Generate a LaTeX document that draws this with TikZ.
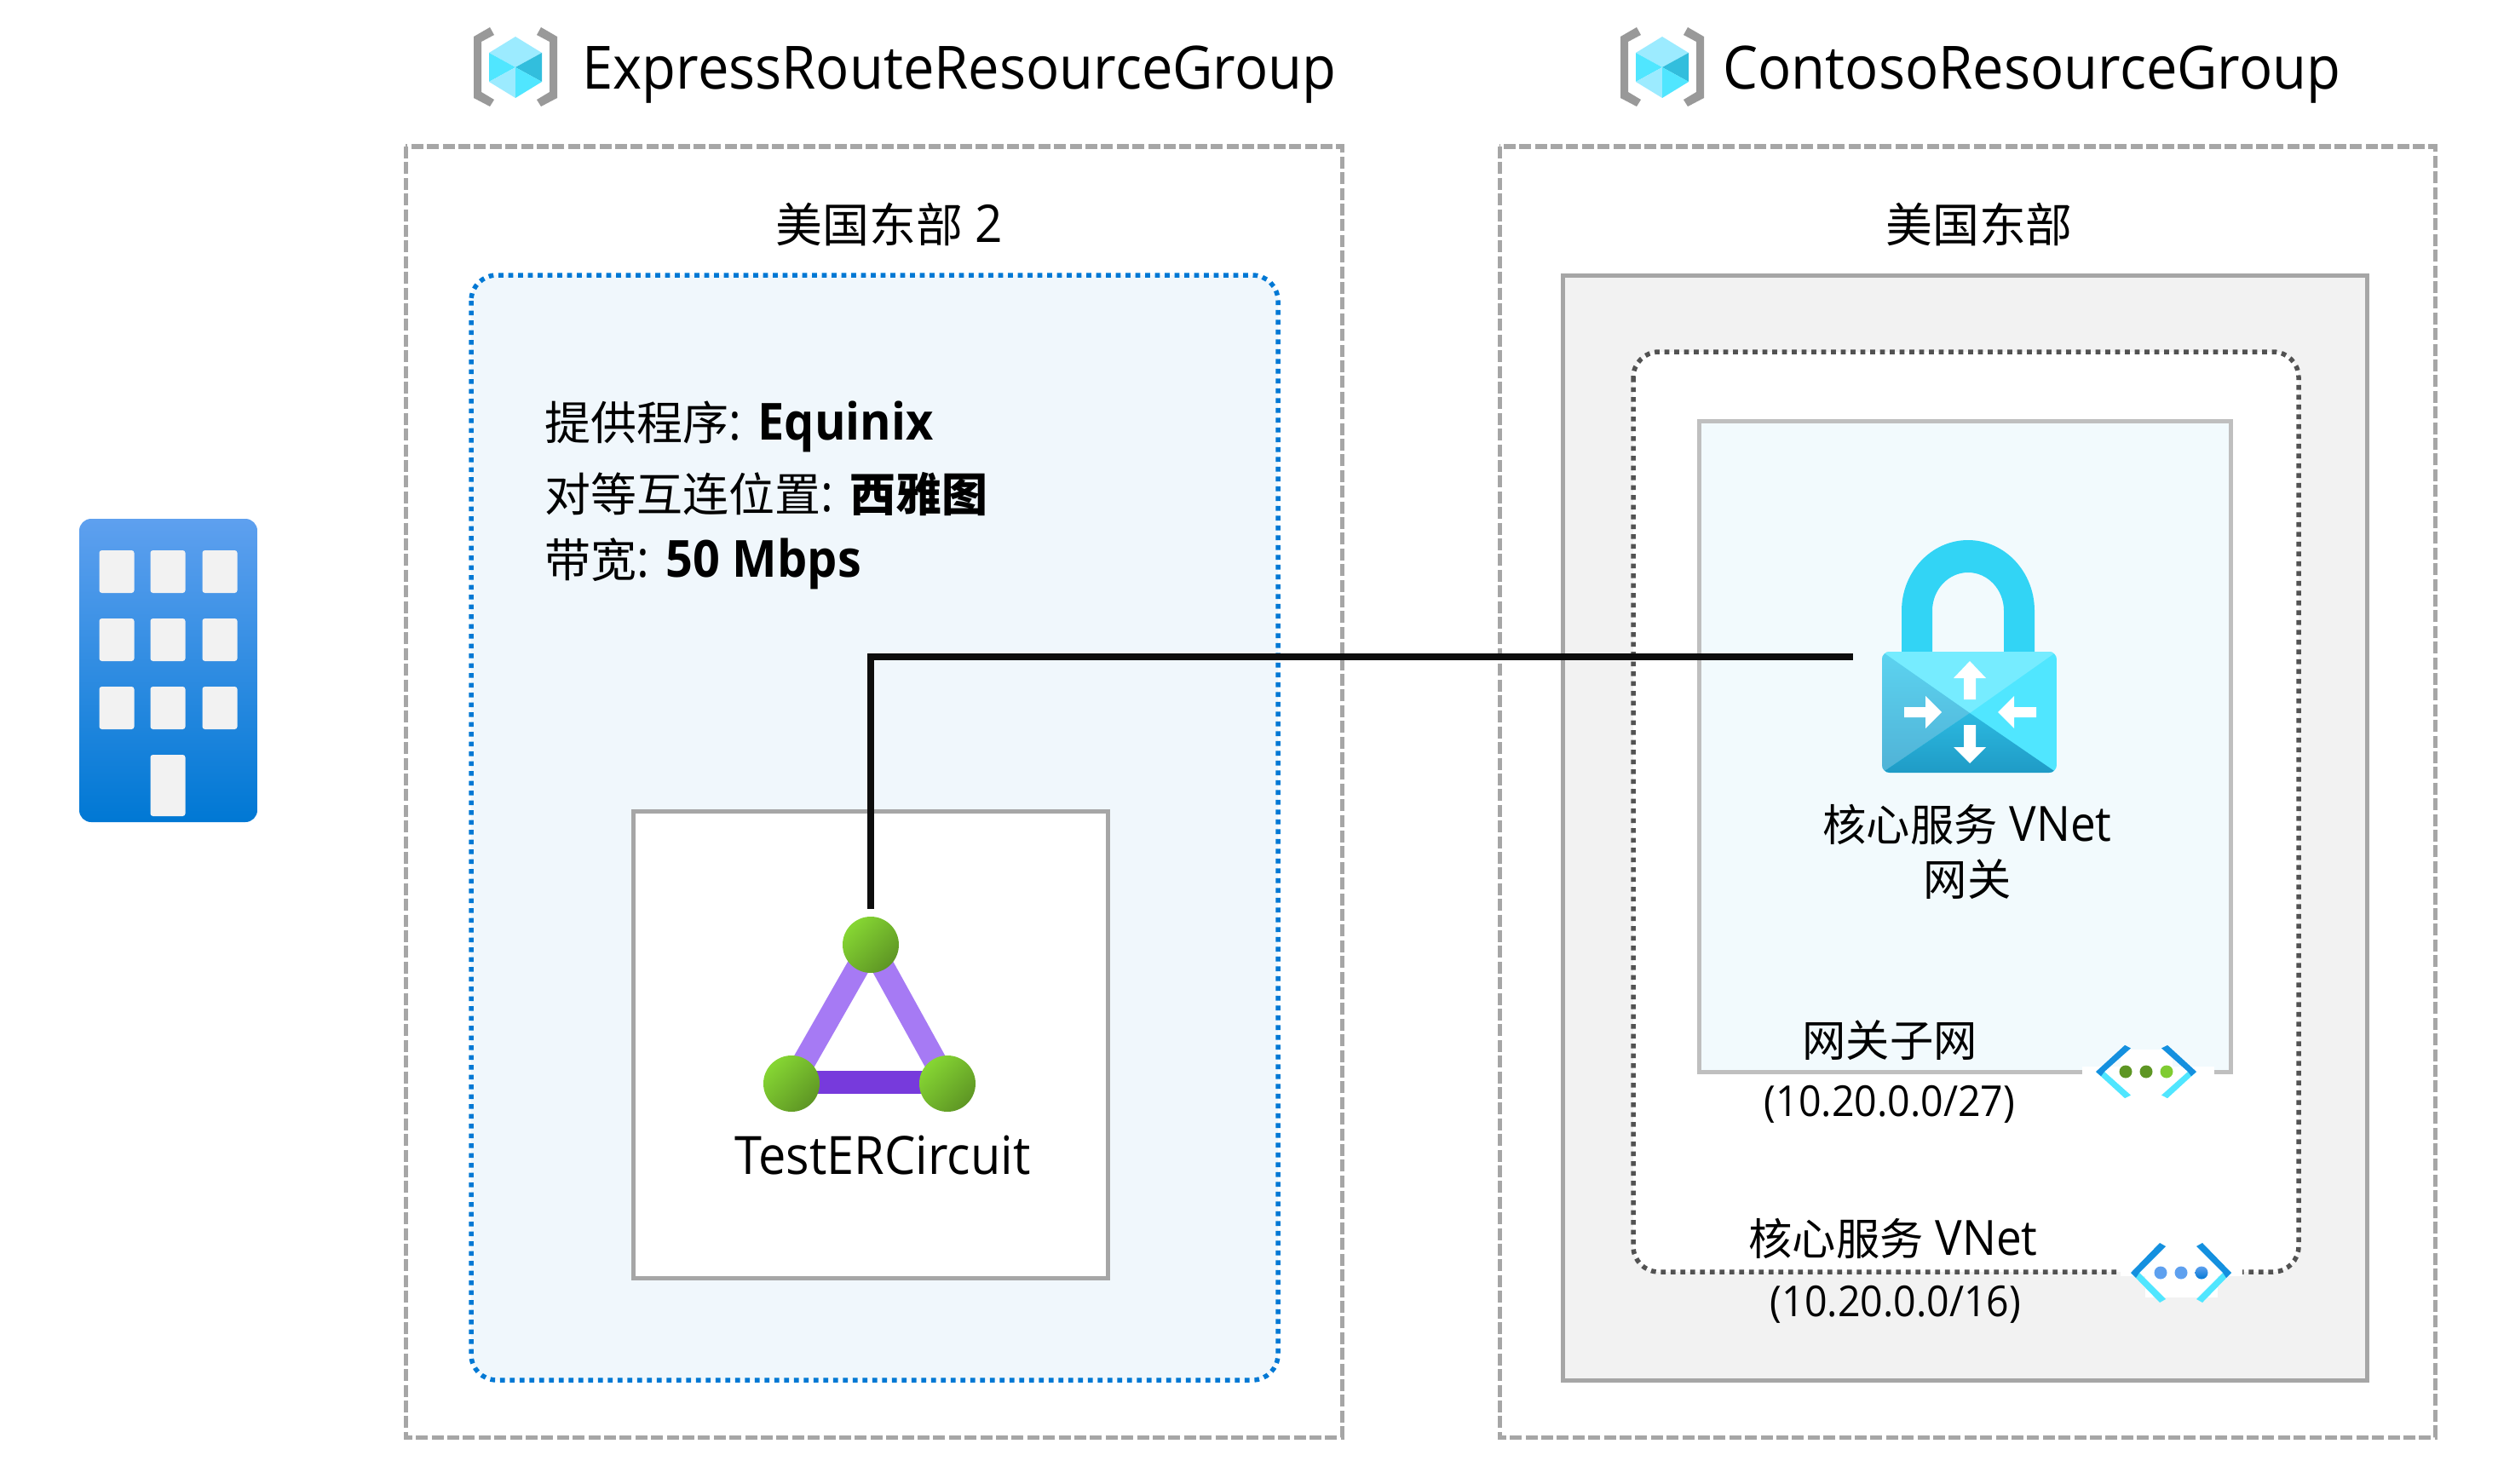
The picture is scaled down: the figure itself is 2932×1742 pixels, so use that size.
\documentclass[tikz,border=0pt]{standalone}
\usepackage{fontspec}
\setmainfont[FakeStretch=0.93]{Open Sans}
\newfontfamily\cjk[Scale=0.9]{Noto Sans CJK SC}
\begin{document}
\begin{tikzpicture}[x=1pt,y=-1pt]
		\tikzstyle{outer}=[draw=black!35,line width=5pt,dash pattern=on 14pt off 4.4pt]
		\tikzstyle{title}=[anchor=base west,font=\fontsize{70}{80}\selectfont]
		\tikzstyle{lbl}=[font=\fontsize{57}{60}\selectfont]
		\tikzstyle{addr}=[font=\fontsize{50}{60}\selectfont]
		\tikzstyle{info}=[anchor=base west,font=\fontsize{60}{60}\selectfont]
		\tikzstyle{win}=[rectangle,rounded corners=3pt,fill=winGray,minimum width=41pt,minimum height=50pt,inner sep=0pt]
		\tikzstyle{ball}=[circle,minimum size=66pt,inner sep=0pt,shading=axis,top color=ballTop,bottom color=ballBot,shading angle=45]
		\tikzstyle{dot}=[circle,minimum size=15pt,inner sep=0pt]
		\definecolor{winGray}{HTML}{F2F2F2}
		\definecolor{ballTop}{HTML}{86D633}
		\definecolor{ballBot}{HTML}{5E9624}
		\definecolor{azBlue}{HTML}{0078D4}
		\definecolor{skyBlue}{HTML}{5EA0EF}
		\definecolor{chevBlue}{HTML}{1490DF}
		\definecolor{cyanA}{HTML}{50E6FF}
		\definecolor{cyanB}{HTML}{9CEBFF}
		\definecolor{cyanC}{HTML}{32BEDD}
		\definecolor{lockTop}{HTML}{32D4F5}
		\definecolor{lockFace}{HTML}{76ECFF}
		\definecolor{lockSideA}{HTML}{5CD3F0}
		\definecolor{lockSideB}{HTML}{50B2D6}
		\definecolor{lockBaseA}{HTML}{2CB9E0}
		\definecolor{lockBaseB}{HTML}{1F9BC6}
		\definecolor{barLight}{HTML}{A67AF4}
		\definecolor{barDark}{HTML}{773ADC}
		\definecolor{subFill}{HTML}{F2FAFD}
		\useasboundingbox (0,0) rectangle (2932,1742);

		\draw[outer] (476,172) rectangle (1575,1687);
		\draw[outer] (1760,172) rectangle (2858,1687);
		\draw[draw=azBlue,fill=azBlue!6,line width=5.5pt,dash pattern=on 5.7pt off 5.8pt,rounded corners=30pt] (553,323) rectangle (1500,1620);
		\draw[draw=black!35,fill=winGray,line width=5pt] (1834,323) rectangle (2778,1620);
		\draw[draw=black!68,fill=white,line width=5.5pt,dash pattern=on 5.7pt off 5.8pt,rounded corners=30pt] (1917,413) rectangle (2698,1493);
		\draw[draw=black!25,fill=subFill,line width=5pt] (1994,494) rectangle (2618,1258);
		\draw[draw=black!35,fill=white,line width=5pt] (743,952) rectangle (1300,1500);

		\node[title] (rg1) at (680,105) {ExpressRouteResourceGroup};
		\node[title] (rg2) at (2019,105) {ContosoResourceGroup};
		\node[lbl,font=\fontsize{61}{60}\selectfont] (east2) at (1044,263) {{\cjk 美国东部} 2};
		\node[lbl,font=\fontsize{61}{60}\selectfont] (east) at (2323,263) {\cjk 美国东部};
		\node[info] (prov) at (636,516) {{\cjk 提供程序}: \textbf{Equinix}};
		\node[info] (peer) at (636,600) {{\cjk 对等互连位置}: {\cjk\bfseries 西雅图}};
		\node[info] (band) at (636,677) {{\cjk 带宽}: \textbf{50 Mbps}};
		\node[font=\fontsize{62}{60}\selectfont] (circ) at (1036,1356) {TestERCircuit};
		\node[lbl] (gw1) at (2309,968) {{\cjk 核心服务} VNet};
		\node[lbl] (gw2) at (2309,1032) {\cjk 网关};
		\node[lbl] (sub1) at (2218,1221) {\cjk 网关子网};
		\node[addr] (sub2) at (2218,1296) {(10.20.0.0/27)};
		\node[lbl] (vnet1) at (2222,1454) {{\cjk 核心服务} VNet};
		\node[addr] (vnet2) at (2225,1531) {(10.20.0.0/16)};

		\shade[top color=skyBlue,bottom color=azBlue,rounded corners=14pt] (93,609) rectangle (302,965);
		\node[win] (w11) at (137,671) {};
		\node[win] (w12) at (197,671) {};
		\node[win] (w13) at (258,671) {};
		\node[win] (w21) at (137,751) {};
		\node[win] (w22) at (197,751) {};
		\node[win] (w23) at (258,751) {};
		\node[win] (w31) at (137,831) {};
		\node[win] (w32) at (197,831) {};
		\node[win] (w33) at (258,831) {};
		\node[win,minimum height=72pt] (door) at (197,922) {};

		\begin{scope}[shift={(605,79)}]
			\fill[black!40] (-30,-47) -- (-25,-38) -- (-40,-30) -- (-40,29) -- (-25,38) -- (-30,46) -- (-49,36) -- (-49,-36) -- cycle;
			\fill[black!40] (30,-47) -- (25,-38) -- (40,-30) -- (40,29) -- (25,38) -- (30,46) -- (49,36) -- (49,-36) -- cycle;
			\fill[cyanB] (0,-36) -- (31,-17) -- (0,0) -- (-31,-17) -- cycle;
			\fill[cyanA] (-31,-17) -- (0,0) -- (-31,17) -- cycle;
			\fill[cyanC] (31,-17) -- (0,0) -- (31,17) -- cycle;
			\fill[cyanB] (-31,17) -- (0,0) -- (0,36) -- cycle;
			\fill[cyanA] (31,17) -- (0,0) -- (0,36) -- cycle;
		\end{scope}
		\begin{scope}[shift={(1951,79)}]
			\fill[black!40] (-30,-47) -- (-25,-38) -- (-40,-30) -- (-40,29) -- (-25,38) -- (-30,46) -- (-49,36) -- (-49,-36) -- cycle;
			\fill[black!40] (30,-47) -- (25,-38) -- (40,-30) -- (40,29) -- (25,38) -- (30,46) -- (49,36) -- (49,-36) -- cycle;
			\fill[cyanB] (0,-36) -- (31,-17) -- (0,0) -- (-31,-17) -- cycle;
			\fill[cyanA] (-31,-17) -- (0,0) -- (-31,17) -- cycle;
			\fill[cyanC] (31,-17) -- (0,0) -- (31,17) -- cycle;
			\fill[cyanB] (-31,17) -- (0,0) -- (0,36) -- cycle;
			\fill[cyanA] (31,17) -- (0,0) -- (0,36) -- cycle;
		\end{scope}

		\coordinate (circT) at (1022,1109);
		\coordinate (circL) at (929,1272);
		\coordinate (circR) at (1112,1272);
		\draw[color=barLight,line width=27pt] (circL) -- (circT) -- (circR);
		\draw[color=barDark,line width=27pt] (929,1270) -- (1112,1270);
		\node[ball] (ballT) at (circT) {};
		\node[ball] (ballL) at (circL) {};
		\node[ball] (ballR) at (circR) {};

		\fill[lockTop] (2232,765) -- (2232,717) arc[start angle=180,end angle=360,x radius=78,y radius=83] -- (2388,765) -- (2352,765) -- (2352,717) arc[start angle=0,end angle=-180,x radius=42,y radius=45] -- (2268,765) -- cycle;
		\begin{scope}
			\clip[rounded corners=9pt] (2209,765) rectangle (2414,907);
			\fill[cyanA] (2209,765) rectangle (2414,907);
			\fill[lockFace] (2209,765) -- (2414,765) -- (2312,837) -- cycle;
			\shade[top color=lockSideA,bottom color=lockSideB] (2209,765) -- (2312,837) -- (2209,907) -- cycle;
			\shade[top color=lockBaseA,bottom color=lockBaseB] (2209,907) -- (2312,837) -- (2414,907) -- cycle;
		\end{scope}
		\fill[white] (2312,776) -- (2331,796) -- (2319,796) -- (2319,821) -- (2305,821) -- (2305,796) -- (2293,796) -- cycle;
		\fill[white] (2312,896) -- (2331,877) -- (2319,877) -- (2319,851) -- (2305,851) -- (2305,877) -- (2293,877) -- cycle;
		\fill[white] (2279,836) -- (2260,817) -- (2260,830) -- (2235,830) -- (2235,842) -- (2260,842) -- (2260,855) -- cycle;
		\fill[white] (2345,836) -- (2364,817) -- (2364,830) -- (2390,830) -- (2390,842) -- (2364,842) -- (2364,855) -- cycle;

		\coordinate (gwPort) at (2175,771);
		\draw[color=black!95,line width=7.5pt,shorten <=9pt] (ballT.north) |- (gwPort);

		\fill[white] (2444,1252) rectangle (2599,1262);
		\fill[white] (2489,1232) rectangle (2550,1252);
		\begin{scope}[shift={(2519,1258)},yscale=0.89]
			\fill[cyanA] (-49,0) -- (-59,0) -- (-25,35) -- (-18,31) -- cycle;
			\fill[cyanA] (49,0) -- (59,0) -- (25,35) -- (18,31) -- cycle;
			\fill[chevBlue] (-59,0) -- (-25,-35) -- (-18,-31) -- (-49,0) -- (-53,6) -- cycle;
			\fill[chevBlue] (59,0) -- (25,-35) -- (18,-31) -- (49,0) -- (53,6) -- cycle;
			\node[dot,fill=ballBot] (sd1) at (-24,0) {};
			\node[dot,fill=ballBot] (sd2) at (0,0) {};
			\node[dot,fill=ballTop!85!ballBot] (sd3) at (24,0) {};
		\end{scope}

		\fill[white] (2489,1488) rectangle (2632,1498);
		\fill[white] (2518,1470) rectangle (2603,1523);
		\begin{scope}[shift={(2560,1494)}]
			\fill[cyanA] (-49,0) -- (-59,0) -- (-25,35) -- (-18,31) -- cycle;
			\fill[cyanA] (49,0) -- (59,0) -- (25,35) -- (18,31) -- cycle;
			\fill[chevBlue] (-59,0) -- (-25,-35) -- (-18,-31) -- (-49,0) -- (-53,6) -- cycle;
			\fill[chevBlue] (59,0) -- (25,-35) -- (18,-31) -- (49,0) -- (53,6) -- cycle;
			\node[dot,fill=skyBlue] (vd1) at (-24,0) {};
			\node[dot,fill=skyBlue] (vd2) at (0,0) {};
			\node[dot,top color=skyBlue,bottom color=azBlue] (vd3) at (24,0) {};
		\end{scope}
		\end{tikzpicture}
\end{document}
